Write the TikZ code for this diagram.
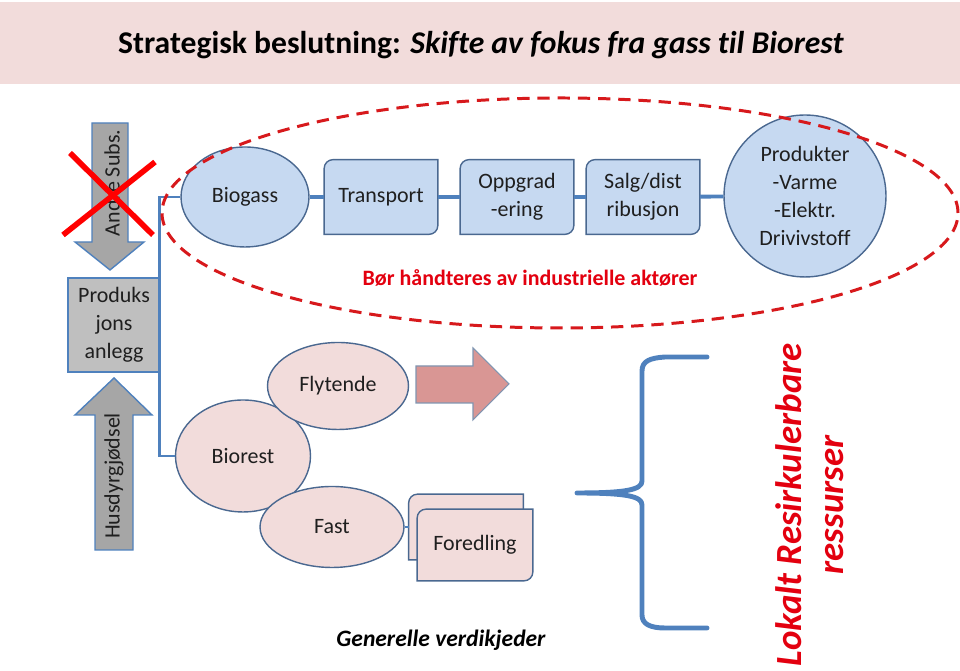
\documentclass[tikz,border=0pt]{standalone}
\usepackage{fontspec}
\setmainfont{Carlito}[Ligatures=NoCommon]
\usetikzlibrary{shapes.geometric, arrows.meta, positioning, calc, backgrounds}
\definecolor{boxblue}{HTML}{C6D9F1}
\definecolor{boxpink}{HTML}{F2DCDB}
\definecolor{edgeblue}{HTML}{4A6890}
\definecolor{lineblue}{HTML}{4F81BD}
\definecolor{arrowgray}{HTML}{A6A6A6}
\definecolor{boxgray}{HTML}{BFBFBF}
\definecolor{arrowpink}{HTML}{D99694}
\definecolor{textred}{HTML}{E3000F}
\definecolor{dashred}{HTML}{D7191C}
\definecolor{ink}{HTML}{1F1F1F}

% frame with two round corners (top left, bottom right)
\newcommand{\diagframe}[2]{%
  \draw[line width=0.8pt, draw=edgeblue, fill=#2]
    ([xshift=5pt]#1.north west) -- (#1.north east) -- ([yshift=5pt]#1.south east)
    arc[start angle=0, end angle=-90, radius=5pt] -- (#1.south west)
    -- ([yshift=-5pt]#1.north west) arc[start angle=180, end angle=90, radius=5pt] -- cycle;}

\begin{document}
\begin{tikzpicture}[x=0.02cm, y=0.02cm,
  nodefont/.style={font=\fontsize{12.5}{16}\selectfont, text=ink, align=center},
  blueell/.style={ellipse, draw=edgeblue, fill=boxblue, line width=0.8pt, inner sep=0pt, nodefont},
  pinkell/.style={ellipse, draw=edgeblue, fill=boxpink, line width=0.8pt, inner sep=0pt, nodefont},
  chainbox/.style={rectangle, minimum width=2.26cm, minimum height=1.48cm, inner sep=0pt, nodefont},
  link/.style={draw=lineblue, line width=2.2pt},
  bigarrow/.style={draw=lineblue, line width=0.8pt, fill=arrowgray}]

\useasboundingbox (0,0) rectangle (960,671);
% title band
\fill[boxpink] (0,587) rectangle (960,669);
\node[font=\fontsize{18}{21}\selectfont\bfseries] (title) at (481,626)
  {Strategisk beslutning: \textit{Skifte av fokus fra gass til Biorest}};

% upper chain
\node[blueell, minimum width=2.56cm, minimum height=2cm] (biogass) at (245,474) {Biogass};
\node[chainbox] (transport) at (381,474) {Transport};
\node[chainbox] (oppgrad) at (517,474) {Oppgrad\\-ering};
\node[chainbox] (salg) at (643,474) {Salg/dist\\ribusjon};
\node[blueell, circle, minimum size=3.24cm] (produkter) at (805,475) {Produkter\\-Varme\\-Elektr.\\Drivivstoff};
\begin{scope}[on background layer]
  \diagframe{transport}{boxblue}
  \diagframe{oppgrad}{boxblue}
  \diagframe{salg}{boxblue}
\end{scope}
\draw[link] (biogass) -- (transport);
\draw[link] (transport) -- (oppgrad);
\draw[link] (oppgrad) -- (salg);
\draw[link] (salg) -- (produkter);
\node[font=\fontsize{12.5}{15}\selectfont\bfseries, text=textred] (bor) at (530,393)
  {Bør håndteres av industrielle aktører};

% left column
\draw[bigarrow] (92,548) -- (128,548) -- (128,429) -- (144,429) -- (110,401) -- (75,429) -- (92,429) -- cycle;
\node[nodefont, rotate=90] (andre) at (112,488) {Andre Subs.};
\draw[red, line width=3.2pt] (70,518) -- (153,436);
\draw[red, line width=3.2pt] (63,436) -- (155,509);
\node[rectangle, draw=lineblue, fill=boxgray, line width=0.8pt, minimum width=1.84cm,
  minimum height=1.88cm, inner sep=0pt, nodefont] (anlegg) at (114,346) {Produks\\jons\\anlegg};
\draw[bigarrow] (95,121) -- (133,121) -- (133,256) -- (152,256) -- (114,293) -- (75,256) -- (95,256) -- cycle;
\node[nodefont, rotate=90] (husdyr) at (114,195) {Husdyrgjødsel};

% lower chain
\node[pinkell, minimum width=2.7cm, minimum height=2.24cm] (biorest) at (243,215) {Biorest};
\node[pinkell, minimum width=2.82cm, minimum height=1.74cm] (flytende) at (338,285) {Flytende};
\node[pinkell, minimum width=2.88cm, minimum height=1.62cm] (fast) at (332,144) {Fast};
\draw[draw=lineblue, line width=1.6pt] (biogass.west) -- ++(-21,0) |- (biorest.west);
\draw[draw=edgeblue!70, line width=0.6pt, fill=arrowpink]
  (416,305) -- (473,305) -- (473,323) -- (509,287) -- (473,251) -- (473,268) -- (416,268) -- cycle;
\node[rectangle, minimum width=2.28cm, minimum height=1.3cm, inner sep=0pt] (foredling2) at (466,144) {};
\node[rectangle, minimum width=2.3cm, minimum height=1.42cm, inner sep=0pt, nodefont] (foredling) at (475,126) {Foredling};
\begin{scope}[on background layer]
  \diagframe{foredling2}{boxpink}
  \diagframe{foredling}{boxpink}
\end{scope}
\draw[draw=lineblue, line width=1.2pt] (fast.east) -- (foredling2.west |- fast.east);

% brace and side text
\draw[lineblue, line width=2.8pt, line cap=round, line join=round]
  (707,314) -- (665,314) .. controls (650,313) and (642,310) .. (642,300) -- (642,190)
  .. controls (642,181) and (625,178) .. (577,178)
  .. controls (625,178) and (642,175) .. (642,166) -- (642,56)
  .. controls (642,47) and (650,43) .. (665,43) -- (707,43);
\node[font=\fontsize{21}{24}\selectfont\bfseries\itshape, text=textred, rotate=90, align=center] (lokalt)
  at (810,166) {Lokalt Resirkulerbare\\ressurser};
\node[font=\fontsize{13.4}{16}\selectfont\bfseries\itshape, text=black] (generelle) at (441,31) {Generelle verdikjeder};

% dashed frame round the gas chain
\draw[dashred, line width=1.7pt, dash pattern=on 7pt off 4.5pt] (560,458) ellipse [x radius=398, y radius=115];
\end{tikzpicture}
\end{document}
